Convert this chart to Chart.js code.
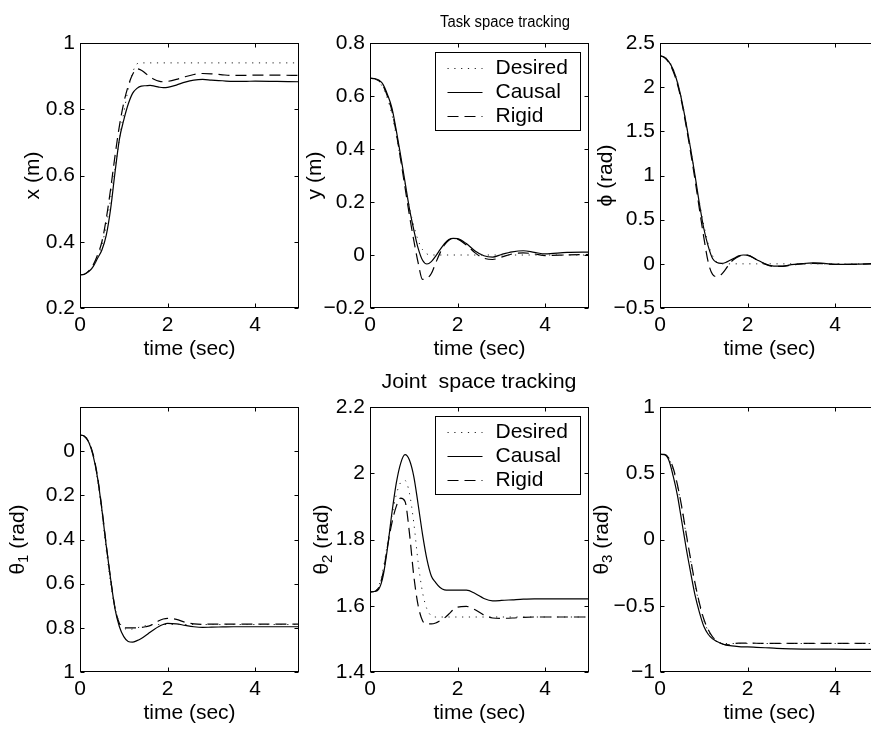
<!DOCTYPE html>
<html>
<head>
<meta charset="utf-8">
<title>Task and joint space tracking</title>
<script src="https://cdn.jsdelivr.net/npm/chart.js@4.4.1/dist/chart.umd.min.js"></script>
<style>
  html, body { margin: 0; padding: 0; background: #fff; overflow: hidden; }
  #figure { position: relative; width: 871px; height: 729px; overflow: hidden; background: #fff; }
  #figure canvas { position: absolute; }
</style>
</head>
<body>
<div id="figure">
  <canvas id="c1"></canvas>
  <canvas id="c2"></canvas>
  <canvas id="c3"></canvas>
  <canvas id="c4"></canvas>
  <canvas id="c5"></canvas>
  <canvas id="c6"></canvas>
</div>
<script>
// time samples (sec), shared by every series
const time = [0, 0.1, 0.2, 0.3, 0.4, 0.5, 0.6, 0.7, 0.8, 0.9, 1.0, 1.1, 1.2, 1.3, 1.4, 1.5, 1.6, 1.7, 1.8, 1.9, 2.0,
              2.2, 2.4, 2.6, 2.8, 3.0, 3.25, 3.5, 3.75, 4.0, 4.5, 5.0];
const seriesNames = ['Desired', 'Causal', 'Rigid'];
const timeTicks = [0, 2, 4];

// task space
const xDesired = [0.300, 0.302, 0.31, 0.325, 0.35, 0.39, 0.45, 0.53, 0.62, 0.71, 0.79, 0.86, 0.91, 0.937, 0.94, 0.94, 0.94, 0.94, 0.94, 0.94, 0.94,
                  0.94, 0.94, 0.94, 0.94, 0.94, 0.94, 0.94, 0.94, 0.94, 0.94, 0.94];
const xCausal  = [0.300, 0.302, 0.31, 0.325, 0.35, 0.375, 0.42, 0.50, 0.61, 0.71, 0.768, 0.815, 0.848, 0.863, 0.870, 0.871, 0.872, 0.870, 0.867, 0.865, 0.866,
                  0.873, 0.882, 0.888, 0.890, 0.888, 0.886, 0.884, 0.884, 0.885, 0.884, 0.883];
const xRigid   = [0.300, 0.302, 0.312, 0.33, 0.36, 0.40, 0.47, 0.56, 0.66, 0.75, 0.82, 0.87, 0.905, 0.922, 0.918, 0.908, 0.898, 0.890, 0.885, 0.883, 0.884,
                  0.890, 0.898, 0.905, 0.908, 0.907, 0.904, 0.902, 0.902, 0.903, 0.903, 0.902];
const xTicks = [0.2, 0.4, 0.6, 0.8, 1];
const xTickLabels = ['0.2', '0.4', '0.6', '0.8', '1'];

const yDesired = [0.667, 0.665, 0.655, 0.63, 0.59, 0.53, 0.45, 0.36, 0.27, 0.18, 0.11, 0.055, 0.02, 0.004, 0, 0, 0, 0, 0, 0, 0,
                  0, 0, 0, 0, 0, 0, 0, 0, 0, 0, 0];
const yCausal  = [0.667, 0.666, 0.66, 0.643, 0.605, 0.555, 0.47, 0.375, 0.275, 0.175, 0.095, 0.025, -0.02, -0.034, -0.025, -0.004, 0.02, 0.043, 0.058, 0.063, 0.062,
                  0.043, 0.015, -0.003, -0.008, 0.002, 0.012, 0.016, 0.01, 0.004, 0.01, 0.011];
const yRigid   = [0.667, 0.665, 0.657, 0.638, 0.598, 0.545, 0.46, 0.36, 0.255, 0.15, 0.055, -0.03, -0.092, -0.088, -0.07, -0.03, 0.008, 0.038, 0.056, 0.063, 0.06,
                  0.038, 0.008, -0.012, -0.017, -0.008, 0.004, 0.008, 0.004, -0.002, 0.0, 0.002];
const yTicks = [-0.2, 0, 0.2, 0.4, 0.6, 0.8];
const yTickLabels = ['\u22120.2', '0', '0.2', '0.4', '0.6', '0.8'];

const phiDesired = [2.356, 2.345, 2.3, 2.21, 2.06, 1.85, 1.59, 1.3, 1.0, 0.7, 0.44, 0.23, 0.09, 0.02, 0, 0, 0, 0, 0, 0, 0,
                    0, 0, 0, 0, 0, 0, 0, 0, 0, 0, 0];
const phiCausal  = [2.356, 2.34, 2.29, 2.2, 2.05, 1.84, 1.58, 1.3, 1.0, 0.68, 0.4, 0.2, 0.06, 0.015, 0.005, 0.015, 0.04, 0.065, 0.09, 0.1, 0.098,
                    0.05, 0.0, -0.025, -0.025, -0.01, 0.003, 0.01, 0.005, -0.005, -0.003, 0.005];
const phiRigid   = [2.356, 2.335, 2.28, 2.18, 2.03, 1.82, 1.55, 1.26, 0.95, 0.62, 0.3, 0.02, -0.12, -0.145, -0.12, -0.06, 0.01, 0.055, 0.085, 0.098, 0.096,
                    0.048, -0.003, -0.028, -0.028, -0.013, 0.0, 0.006, 0.002, -0.007, -0.005, 0.002];
const phiTicks = [-0.5, 0, 0.5, 1, 1.5, 2, 2.5];
const phiTickLabels = ['\u22120.5', '0', '0.5', '1', '1.5', '2', '2.5'];

// joint space
const th1Desired = [0.073, 0.07, 0.045, -0.02, -0.13, -0.28, -0.45, -0.6, -0.71, -0.775, -0.8, -0.808, -0.805, -0.8, -0.795, -0.79, -0.785, -0.785, -0.785, -0.785, -0.785,
                    -0.785, -0.785, -0.785, -0.785, -0.785, -0.785, -0.785, -0.785, -0.785, -0.785, -0.785];
const th1Causal  = [0.073, 0.068, 0.04, -0.02, -0.12, -0.265, -0.43, -0.58, -0.715, -0.795, -0.84, -0.862, -0.865, -0.858, -0.848, -0.835, -0.82, -0.806, -0.794, -0.785, -0.78,
                    -0.782, -0.789, -0.795, -0.798, -0.797, -0.796, -0.795, -0.795, -0.795, -0.795, -0.795];
const th1Rigid   = [0.073, 0.068, 0.042, -0.015, -0.115, -0.26, -0.425, -0.58, -0.71, -0.78, -0.8, -0.8, -0.8, -0.8, -0.798, -0.795, -0.79, -0.78, -0.768, -0.76, -0.757,
                    -0.762, -0.775, -0.782, -0.784, -0.783, -0.783, -0.783, -0.783, -0.783, -0.783, -0.783];
const th1Ticks = [-1, -0.8, -0.6, -0.4, -0.2, 0];
const th1TickLabels = ['1', '0.8', '0.6', '0.4', '0.2', '0'];

const th2Desired = [1.642, 1.644, 1.66, 1.71, 1.79, 1.87, 1.935, 1.972, 1.978, 1.94, 1.85, 1.73, 1.64, 1.59, 1.57, 1.566, 1.566, 1.566, 1.566, 1.566, 1.566,
                    1.566, 1.566, 1.566, 1.566, 1.566, 1.566, 1.566, 1.566, 1.566, 1.566, 1.566];
const th2Causal  = [1.642, 1.643, 1.65, 1.69, 1.775, 1.88, 1.97, 2.03, 2.056, 2.04, 1.99, 1.905, 1.815, 1.74, 1.69, 1.67, 1.655, 1.648, 1.647, 1.647, 1.647,
                    1.647, 1.637, 1.622, 1.615, 1.616, 1.618, 1.62, 1.621, 1.621, 1.621, 1.621];
const th2Rigid   = [1.642, 1.643, 1.655, 1.7, 1.78, 1.85, 1.9, 1.925, 1.915, 1.82, 1.69, 1.6, 1.555, 1.545, 1.545, 1.548, 1.555, 1.563, 1.575, 1.588, 1.596,
                    1.598, 1.588, 1.572, 1.563, 1.562, 1.563, 1.565, 1.566, 1.566, 1.566, 1.566];
const th2Ticks = [1.4, 1.6, 1.8, 2, 2.2];
const th2TickLabels = ['1.4', '1.6', '1.8', '2', '2.2'];

const th3Desired = [0.643, 0.641, 0.61, 0.53, 0.4, 0.23, 0.03, -0.16, -0.34, -0.49, -0.61, -0.69, -0.74, -0.77, -0.782, -0.785, -0.785, -0.785, -0.785, -0.785, -0.785,
                    -0.785, -0.785, -0.785, -0.785, -0.785, -0.785, -0.785, -0.785, -0.785, -0.785, -0.785];
const th3Causal  = [0.643, 0.64, 0.6, 0.48, 0.33, 0.13, -0.07, -0.25, -0.42, -0.55, -0.655, -0.715, -0.75, -0.77, -0.785, -0.795, -0.801, -0.805, -0.808, -0.81, -0.811,
                    -0.814, -0.817, -0.82, -0.823, -0.825, -0.827, -0.828, -0.828, -0.828, -0.829, -0.829];
const th3Rigid   = [0.643, 0.642, 0.615, 0.54, 0.41, 0.24, 0.04, -0.15, -0.33, -0.48, -0.6, -0.68, -0.735, -0.765, -0.785, -0.795, -0.795, -0.785, -0.782, -0.782, -0.782,
                    -0.783, -0.784, -0.784, -0.784, -0.784, -0.784, -0.784, -0.784, -0.784, -0.784, -0.784];
const th3Ticks = [-1, -0.5, 0, 0.5, 1];
const th3TickLabels = ['\u22121', '\u22120.5', '0', '0.5', '1'];

const FAMILY = "'Liberation Sans', Arial, Helvetica, sans-serif";
const lineStyles = [
  { borderColor: '#222', borderWidth: 1, borderDash: [1.2, 5.6] },
  { borderColor: '#000', borderWidth: 1.2, borderDash: [] },
  { borderColor: '#000', borderWidth: 1.2, borderDash: [11, 6] }
];

// plot area of each axes box, in page pixels
const panels = [
  { id: 'c1', left: 80,  top: 43,  series: [xDesired, xCausal, xRigid], min: 0.2, max: 1, ticks: xTicks, labels: xTickLabels,
    ylabel: [['x (m)', 21, 0]], ylabelDx: -47 },
  { id: 'c2', left: 370, top: 43,  series: [yDesired, yCausal, yRigid], min: -0.2, max: 0.8, ticks: yTicks, labels: yTickLabels,
    ylabel: [['y (m)', 21, 0]], ylabelDx: -55, legend: true,
    title: { text: 'Task space tracking', size: 16, width: 130, cx: 135, baseline: -16.5 } },
  { id: 'c3', left: 660, top: 43,  series: [phiDesired, phiCausal, phiRigid], min: -0.5, max: 2.5, ticks: phiTicks, labels: phiTickLabels,
    ylabel: [['\u03d5 (rad)', 21, 0]], ylabelDx: -54 },
  { id: 'c4', left: 80,  top: 407, series: [th1Desired, th1Causal, th1Rigid], min: -1, max: 0.2, ticks: th1Ticks, labels: th1TickLabels,
    ylabel: [['\u03b8', 21, 0], ['1', 15, 6], [' (rad)', 21, 0]], ylabelDx: -62 },
  { id: 'c5', left: 370, top: 407, series: [th2Desired, th2Causal, th2Rigid], min: 1.4, max: 2.2, ticks: th2Ticks, labels: th2TickLabels,
    ylabel: [['\u03b8', 21, 0], ['2', 15, 6], [' (rad)', 21, 0]], ylabelDx: -48, legend: true,
    title: { text: 'Joint  space tracking', size: 21, width: 195, cx: 109, baseline: -19 } },
  { id: 'c6', left: 660, top: 407, series: [th3Desired, th3Causal, th3Rigid], min: -1, max: 1, ticks: th3Ticks, labels: th3TickLabels,
    ylabel: [['\u03b8', 21, 0], ['3', 15, 6], [' (rad)', 21, 0]], ylabelDx: -58 }
];

const PLOT_W = 219, PLOT_H = 265, AXIS_W = 80, PAD_TOP = 43, PAD_RIGHT = 8, XAXIS_H = 55;

function rotatedLabel(ctx, parts, cx, cy) {
  const widths = parts.map(p => { ctx.font = p[1] + 'px ' + FAMILY; return ctx.measureText(p[0]).width; });
  let x = -widths.reduce((s, w) => s + w, 0) / 2;
  ctx.save();
  ctx.translate(cx, cy);
  ctx.rotate(-Math.PI / 2);
  ctx.textAlign = 'left';
  ctx.textBaseline = 'middle';
  ctx.fillStyle = '#000';
  parts.forEach((p, i) => {
    ctx.font = p[1] + 'px ' + FAMILY;
    ctx.fillText(p[0], x, p[2]);
    x += widths[i];
  });
  ctx.restore();
}

// matlab style box: frame, inward ticks on all sides, legend, labels
const matlabAxes = {
  id: 'matlabAxes',
  afterDraw(chart, args, opts) {
    const { ctx, chartArea: a, scales: { x, y } } = chart;
    const L = Math.round(a.left) + 0.5, R = Math.round(a.right) - 0.5;
    const T = Math.round(a.top) + 0.5, B = Math.round(a.bottom) - 0.5;
    ctx.save();
    ctx.strokeStyle = '#000';
    ctx.lineWidth = 1;
    ctx.setLineDash([]);
    ctx.strokeRect(L, T, R - L, B - T);
    ctx.beginPath();
    x.ticks.forEach(t => {
      const px = Math.round(x.getPixelForValue(t.value)) + 0.5;
      ctx.moveTo(px, B); ctx.lineTo(px, B - 4);
      ctx.moveTo(px, T); ctx.lineTo(px, T + 4);
    });
    y.ticks.forEach(t => {
      const py = Math.round(y.getPixelForValue(t.value)) + 0.5;
      ctx.moveTo(L, py); ctx.lineTo(L + 4, py);
      ctx.moveTo(R, py); ctx.lineTo(R - 4, py);
    });
    ctx.stroke();

    if (opts.legend) {
      const bw = 145, bh = 78;
      const bx = Math.round(a.right - 9 - bw) + 0.5, by = Math.round(a.top + 9) + 0.5;
      ctx.fillStyle = '#fff';
      ctx.fillRect(bx, by, bw, bh);
      ctx.strokeRect(bx, by, bw, bh);
      ctx.font = '21px ' + FAMILY;
      ctx.textAlign = 'left';
      ctx.textBaseline = 'middle';
      chart.data.datasets.forEach((ds, i) => {
        const ry = Math.round(by + 15 + i * 24) + 0.5;
        ctx.strokeStyle = ds.borderColor;
        ctx.lineWidth = ds.borderWidth;
        ctx.setLineDash(ds.borderDash || []);
        ctx.beginPath();
        ctx.moveTo(bx + 12, ry);
        ctx.lineTo(bx + 47, ry);
        ctx.stroke();
        ctx.setLineDash([]);
        ctx.fillStyle = '#000';
        ctx.fillText(ds.label, bx + 60, ry);
      });
    }

    rotatedLabel(ctx, opts.ylabel, a.left + opts.ylabelDx, (a.top + a.bottom) / 2);

    if (opts.title) {
      const tt = opts.title;
      ctx.font = tt.size + 'px ' + FAMILY;
      const w = ctx.measureText(tt.text).width;
      ctx.translate(a.left + tt.cx, a.top + tt.baseline);
      ctx.scale(tt.width / w, 1);
      ctx.textAlign = 'center';
      ctx.textBaseline = 'alphabetic';
      ctx.fillStyle = '#000';
      ctx.fillText(tt.text, 0, 0);
    }
    ctx.restore();
  }
};

Chart.defaults.color = '#000';
Chart.defaults.font.family = FAMILY;

panels.forEach(p => {
  const canvas = document.getElementById(p.id);
  canvas.width = AXIS_W + PLOT_W + PAD_RIGHT;
  canvas.height = PAD_TOP + PLOT_H + XAXIS_H;
  canvas.style.left = (p.left - AXIS_W) + 'px';
  canvas.style.top = (p.top - PAD_TOP) + 'px';

  const datasets = p.series.map((vals, i) => Object.assign({
    label: seriesNames[i],
    data: time.map((t, k) => ({ x: t, y: vals[k] })),
    pointRadius: 0,
    fill: false,
    cubicInterpolationMode: 'monotone',
    borderCapStyle: 'butt'
  }, lineStyles[i]));

  new Chart(canvas, {
    type: 'line',
    data: { datasets: datasets },
    plugins: [matlabAxes],
    options: {
      responsive: false,
      animation: false,
      events: [],
      layout: { padding: { top: PAD_TOP, right: PAD_RIGHT, bottom: 0, left: 0 } },
      scales: {
        x: {
          type: 'linear', min: 0, max: 5,
          afterFit: s => { s.height = XAXIS_H; },
          afterBuildTicks: s => { s.ticks = timeTicks.map(v => ({ value: v })); },
          grid: { display: false, drawTicks: false },
          border: { display: false },
          ticks: { autoSkip: false, maxRotation: 0, padding: 5, font: { size: 21 }, callback: v => String(v) },
          title: { display: true, text: 'time (sec)', font: { size: 21 }, padding: { top: 0, bottom: 1 } }
        },
        y: {
          type: 'linear', min: p.min, max: p.max,
          afterFit: s => { s.width = AXIS_W; },
          afterBuildTicks: s => { s.ticks = p.ticks.map(v => ({ value: v })); },
          grid: { display: false, drawTicks: false },
          border: { display: false },
          ticks: { autoSkip: false, padding: 5, font: { size: 21 }, callback: (v, i) => p.labels[i] }
        }
      },
      plugins: {
        legend: { display: false },
        tooltip: { enabled: false },
        matlabAxes: { legend: !!p.legend, ylabel: p.ylabel, ylabelDx: p.ylabelDx, title: p.title || null }
      }
    }
  });
});
</script>
</body>
</html>
